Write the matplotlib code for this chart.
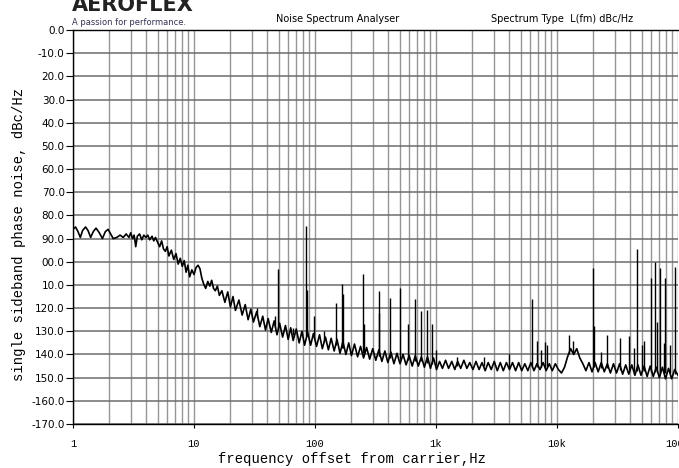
import matplotlib
matplotlib.use("Agg")
import matplotlib.pyplot as plt
from matplotlib.ticker import LogLocator, NullFormatter

# phase noise trace, one list per decade
freq_1_10 = [1.0, 1.05, 1.1, 1.15, 1.2, 1.27, 1.33, 1.4, 1.47, 1.55,
             1.65, 1.75, 1.85, 1.95, 2.05, 2.15, 2.3, 2.45, 2.6, 2.75,
             2.9, 3.0, 3.1, 3.2, 3.3, 3.4, 3.55, 3.7, 3.85, 4.0,
             4.15, 4.3, 4.5, 4.65, 4.8, 5.0, 5.2, 5.4, 5.6, 5.8,
             6.0, 6.2, 6.5, 6.8, 7.1, 7.4, 7.7, 8.0, 8.3, 8.6,
             8.9, 9.2, 9.6]
level_1_10 = [-86, -85, -87, -89.5, -86.5, -85, -86.5, -89.5, -87, -85.5,
              -87.5, -90, -87, -86, -88, -90, -89.5, -88.5, -89.5, -88,
              -89.5, -87.5, -90, -88.5, -93.5, -89, -88, -90.5, -88.5, -89.5,
              -88.5, -90.5, -89, -91, -89.5, -91.5, -93.5, -91, -94.5, -95.5,
              -93.5, -97.5, -95, -99, -96.5, -101, -98.5, -102, -99.5, -104.5,
              -101.5, -106.5, -103.5]

freq_10_100 = [10.0, 10.4, 10.8, 11.2, 11.6, 12.0, 12.5, 13.0, 13.5, 14.0,
               14.5, 15.0, 15.6, 16.2, 17.0, 18.0, 19.0, 20.0, 21.0, 22.0,
               23.5, 25.0, 26.5, 28.0, 29.5, 31.0, 33.0, 35.0, 37.0, 39.0,
               41.0, 43.5, 46.0, 48.5, 51.0, 54.0, 57.0, 60.0, 63.0, 66.0,
               70.0, 74.0, 78.0, 82.0, 87.0, 92.0, 97.0]
level_10_100 = [-105.5, -102.5, -101.5, -103, -107, -109.5, -111.5, -108.5, -110.5, -108,
                -111.5, -112.5, -110.5, -114.5, -112.5, -117.5, -113, -119.5, -115, -121,
                -116.5, -123, -118.5, -125, -120.5, -126, -121.5, -128, -123.5, -129.5,
                -124.5, -130.5, -125.5, -131.5, -126.5, -132.5, -127.5, -133.5, -128.5, -134,
                -129, -135, -130, -136, -130.5, -136, -131]

freq_100_1k = [103, 109, 115, 122, 129, 136, 144, 152, 161, 170,
               180, 190, 200, 212, 225, 238, 252, 267, 283, 300,
               318, 337, 357, 378, 400, 424, 449, 476, 504, 534,
               566, 600, 636, 674, 714, 757, 802, 850, 900, 954]
level_100_1k = [-136.5, -131.5, -137.5, -132.5, -138, -133, -138.5, -133.5, -139.5, -134.5,
                -140, -135, -140.5, -135.5, -141, -136.5, -141.5, -137, -142, -137.5,
                -142.5, -138, -143, -138.5, -143.5, -139, -144, -139.5, -144, -140,
                -144.5, -140.5, -145, -140.5, -145, -141, -145.5, -141, -146, -141.5]

freq_1k_10k = [1010, 1070, 1130, 1200, 1270, 1350, 1430, 1510, 1600, 1700,
               1800, 1900, 2020, 2140, 2270, 2400, 2550, 2700, 2860, 3030,
               3210, 3400, 3600, 3820, 4050, 4290, 4550, 4820, 5110, 5420,
               5740, 6080, 6450, 6830, 7240, 7680, 8140, 8630, 9140, 9690]
level_1k_10k = [-146.5, -143, -146, -142.5, -146, -143, -146.5, -143, -146, -142.5,
                -146, -143.5, -146.5, -143, -146.5, -143.5, -147, -143.5, -146.5, -143,
                -147, -143.5, -147, -143.5, -146.5, -143.5, -147, -143.5, -147, -144,
                -147, -143.5, -147, -144, -146.5, -143.5, -147, -144, -147, -144]

freq_10k_100k = [10270, 10890, 11540, 12230, 12960, 13740, 14560, 15430, 16360, 17340,
                 18380, 19480, 20650, 21890, 23200, 24590, 26070, 27630, 29290, 31040,
                 32900, 34880, 36970, 39190, 41540, 44030, 46670, 49470, 52440, 55580,
                 58920, 62450, 66190, 70160, 74370, 78830, 83560, 88580, 93890, 100000]
level_10k_100k = [-146.5, -148, -145.5, -141, -137.5, -140, -137.5, -141.5, -144, -147,
                  -143.5, -147.5, -143.5, -147.5, -143.5, -147.5, -144, -148, -144, -148,
                  -144, -148.5, -144.5, -148.5, -144.5, -149, -144.5, -149, -145, -149.5,
                  -145, -149.5, -145.5, -150, -145.5, -150.5, -146, -150.5, -146.5, -149]

# discrete spurs: frequency, peak level, level of the noise floor under them
spur_freq = [33, 46.5, 49.6, 66, 84, 86, 98, 118, 148, 167, 170, 251, 253,
             335, 340, 418, 501, 582, 667, 754, 836, 918, 1000,
             1500, 2500, 4000, 6200, 6800, 7400, 7900, 8200,
             12500, 13500, 19800, 20300, 23000, 26000, 33000, 39000, 43000,
             46000, 50000, 52000, 60000, 65000, 66500, 71000, 76000, 78000,
             86000, 95000]
spur_top = [-120, -123.6, -103.2, -128.5, -84.5, -112, -123.6, -130, -117.8, -109.5, -114, -105.2, -127,
            -112.5, -122, -115.7, -111.3, -127, -116, -121.4, -120.7, -127, -138,
            -141, -141, -140, -116, -134.3, -138, -134.7, -136,
            -131.5, -134, -102.7, -127.6, -139, -131.5, -133, -132, -137,
            -94.5, -136, -134, -107, -99.9, -126, -102.7, -135, -107,
            -136, -102.3]
spur_base = [-124, -128, -129, -131.5, -132, -132, -133, -134.5, -136, -137, -137, -139.5, -139.5,
             -140.5, -140.5, -141.5, -142, -142.5, -143, -143, -143.5, -144, -144.5,
             -145, -145, -145.5, -145.5, -145.5, -145.5, -145.5, -145.5,
             -140, -140, -145.5, -145.5, -146, -146, -146.5, -146.5, -147,
             -147, -147, -147, -147.5, -147.5, -147.5, -148, -148, -148,
             -148, -148.5]

x_ticks = [1, 10, 100, 1000, 10000, 100000]
x_tick_labels = ['1', '10', '100', '1k', '10k', '100k']
y_ticks = [0, -10, -20, -30, -40, -50, -60, -70, -80, -90,
           -100, -110, -120, -130, -140, -150, -160, -170]
# labels as they appear on the screen capture (some leading digits clipped)
y_tick_labels = ['0.0', '-10.0', '20.0', '30.0', '40.0', '50.0', '60.0', '70.0', '80.0', '90.0',
                 '00.0', '10.0', '120.0', '130.0', '140.0', '150.0', '-160.0', '-170.0']

freq = freq_1_10 + freq_10_100 + freq_100_1k + freq_1k_10k + freq_10k_100k
level = level_1_10 + level_10_100 + level_100_1k + level_1k_10k + level_10k_100k

fig = plt.figure(figsize=(6.79, 4.68), dpi=100)
ax = fig.add_axes([73 / 679, 44 / 468, 605 / 679, 394 / 468])

ax.set_xscale('log')
ax.set_xlim(1, 100000)
ax.set_ylim(-170, 0)

ax.xaxis.set_minor_locator(LogLocator(base=10, subs=range(2, 10)))
ax.xaxis.set_minor_formatter(NullFormatter())
ax.set_xticks(x_ticks, x_tick_labels, fontfamily='Liberation Mono', fontsize=7.5)
ax.set_yticks(y_ticks, y_tick_labels, fontfamily='DejaVu Sans', fontsize=7.5)

ax.grid(which='both', axis='x', color='#969696', lw=1.0)
ax.grid(which='major', axis='y', color='#6c6c6c', lw=1.1)
ax.set_axisbelow(True)

ax.tick_params(axis='x', which='major', length=3, pad=8, direction='out')
ax.tick_params(axis='x', which='minor', length=0)
ax.tick_params(axis='y', length=5, pad=1, direction='out')

ax.spines['right'].set_visible(False)
for s in ['left', 'bottom', 'top']:
    ax.spines[s].set_color('black')
    ax.spines[s].set_linewidth(1.0)

ax.plot(freq, level, color='black', lw=1.2)
ax.vlines(spur_freq, spur_base, spur_top, color='black', lw=1.0)

# header of the screen capture (logo mostly cut off at the top)
fig.text(72 / 679, 1 - 11 / 468, 'AEROFLEX', fontsize=15, fontweight='bold',
         color='#222222', ha='left', va='baseline')
fig.text(72 / 679, 1 - 22.5 / 468, 'A passion for performance.', fontsize=6,
         color='#333355', ha='left', va='center')
fig.text(338 / 679, 1 - 19 / 468, 'Noise Spectrum Analyser', fontsize=7,
         ha='center', va='center')
fig.text(562 / 679, 1 - 19 / 468, 'Spectrum Type  L(fm) dBc/Hz', fontsize=7,
         ha='center', va='center')

fig.text(352 / 679, 1 - 459 / 468, 'frequency offset from carrier,Hz',
         fontfamily='Liberation Mono', fontsize=10, ha='center', va='center')
fig.text(19 / 679, 1 - 234 / 468, 'single sideband phase noise, dBc/Hz',
         fontfamily='Liberation Mono', fontsize=10, rotation=90,
         ha='center', va='center')

fig.savefig('out.png', dpi=100)
